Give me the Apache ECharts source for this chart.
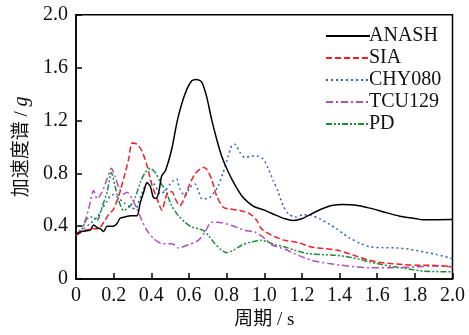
<!DOCTYPE html>
<html><head><meta charset="utf-8">
<script src="https://cdn.jsdelivr.net/npm/echarts@6/dist/echarts.min.js"></script>
<style>html,body{margin:0;padding:0;background:#fff}#c{width:469px;height:335px}</style>
</head><body><div id="c"></div>
<script>
const seriesNames = ['ANASH', 'SIA', 'CHY080', 'TCU129', 'PD'];
const xTicks = ['0', '0.2', '0.4', '0.6', '0.8', '1.0', '1.2', '1.4', '1.6', '1.8', '2.0'];
const yTicks = ['0', '0.4', '0.8', '1.2', '1.6', '2.0'];

const anashT = [0,0.03,0.075,0.094,0.112,0.13,0.147,0.165,0.2,0.218,0.234,0.26,0.29,0.324,0.34,0.36,0.377,0.395,0.41,0.425,0.44,0.455,0.475,0.508,0.54,0.579,0.615,0.641,0.668,0.694,0.72,0.747,0.774,0.809,0.845,0.88,0.915,0.95,1.004,1.057,1.11,1.153,1.199,1.252,1.305,1.358,1.418,1.48,1.56,1.63,1.72,1.81,1.84,2.0];
const anashV = [0.34,0.36,0.37,0.41,0.39,0.38,0.36,0.40,0.40,0.42,0.46,0.47,0.48,0.48,0.57,0.66,0.73,0.70,0.62,0.61,0.66,0.78,0.82,0.98,1.21,1.40,1.50,1.51,1.49,1.38,1.21,1.06,0.93,0.81,0.71,0.63,0.58,0.545,0.52,0.486,0.456,0.444,0.456,0.494,0.53,0.556,0.564,0.56,0.537,0.51,0.476,0.456,0.449,0.451];

const siaT = [0,0.05,0.085,0.12,0.147,0.174,0.2,0.227,0.253,0.28,0.298,0.324,0.35,0.377,0.404,0.43,0.457,0.475,0.492,0.51,0.526,0.552,0.57,0.597,0.632,0.676,0.694,0.72,0.747,0.782,0.818,0.871,0.924,0.96,0.986,1.04,1.11,1.18,1.25,1.32,1.39,1.455,1.526,1.597,1.668,1.74,1.81,1.88,2.0];
const siaV = [0.33,0.37,0.38,0.38,0.43,0.49,0.53,0.63,0.76,0.91,1.03,1.02,0.97,0.86,0.71,0.61,0.52,0.61,0.66,0.66,0.61,0.556,0.594,0.695,0.795,0.845,0.832,0.757,0.63,0.544,0.53,0.519,0.494,0.444,0.38,0.331,0.293,0.276,0.243,0.231,0.218,0.19,0.156,0.13,0.118,0.11,0.105,0.105,0.093];

const chyT = [0,0.04,0.076,0.112,0.138,0.165,0.182,0.2,0.227,0.262,0.29,0.315,0.342,0.368,0.395,0.421,0.448,0.475,0.5,0.517,0.535,0.552,0.579,0.606,0.632,0.65,0.668,0.694,0.72,0.756,0.782,0.809,0.827,0.845,0.871,0.898,0.933,0.96,0.995,1.02,1.048,1.075,1.1,1.128,1.163,1.207,1.25,1.296,1.34,1.385,1.42,1.455,1.51,1.56,1.63,1.70,1.77,1.845,1.916,2.0];
const chyV = [0.33,0.38,0.42,0.47,0.53,0.59,0.63,0.64,0.61,0.57,0.544,0.53,0.62,0.707,0.744,0.707,0.644,0.67,0.72,0.744,0.757,0.68,0.63,0.695,0.72,0.67,0.607,0.607,0.63,0.707,0.807,0.93,1.01,1.02,0.958,0.92,0.932,0.932,0.907,0.84,0.744,0.657,0.556,0.494,0.469,0.486,0.481,0.456,0.42,0.38,0.344,0.31,0.27,0.244,0.238,0.236,0.226,0.206,0.186,0.155];

const tcuT = [0,0.04,0.067,0.094,0.112,0.138,0.165,0.188,0.209,0.227,0.253,0.271,0.298,0.324,0.35,0.377,0.413,0.457,0.51,0.543,0.597,0.65,0.685,0.72,0.774,0.827,0.898,0.95,1.004,1.04,1.11,1.18,1.25,1.34,1.41,1.48,1.56,1.67,1.81,1.916,2.0];
const tcuV = [0.33,0.41,0.53,0.67,0.607,0.657,0.757,0.838,0.77,0.695,0.644,0.657,0.607,0.53,0.444,0.368,0.306,0.268,0.268,0.236,0.26,0.293,0.356,0.43,0.426,0.406,0.368,0.356,0.306,0.26,0.226,0.18,0.143,0.118,0.105,0.093,0.086,0.086,0.093,0.1,0.093];

const pdT = [0,0.032,0.058,0.085,0.112,0.138,0.165,0.188,0.209,0.227,0.253,0.29,0.315,0.342,0.368,0.395,0.421,0.448,0.475,0.508,0.543,0.579,0.615,0.65,0.676,0.703,0.738,0.774,0.8,0.836,0.88,0.933,0.986,1.057,1.11,1.163,1.234,1.305,1.376,1.447,1.526,1.597,1.686,1.774,1.845,2.0];
const pdV = [0.33,0.38,0.456,0.47,0.444,0.544,0.657,0.807,0.695,0.594,0.519,0.556,0.62,0.732,0.807,0.838,0.807,0.732,0.67,0.556,0.481,0.43,0.394,0.38,0.368,0.331,0.268,0.218,0.2,0.218,0.256,0.281,0.293,0.26,0.243,0.218,0.193,0.186,0.18,0.168,0.143,0.118,0.093,0.075,0.06,0.055];

const seriesT = [anashT, siaT, chyT, tcuT, pdT];
const seriesV = [anashV, siaV, chyV, tcuV, pdV];
const colors = ['#000000', '#f01e23', '#2a62c4', '#b04fbd', '#1f8a3b'];
const dashes = ['solid', [6, 3], [2, 3], [7, 3, 2, 3], [6, 2, 2, 2, 2, 2]];

const FONT = '"Liberation Serif", "Times New Roman", "Noto Sans CJK SC", serif';
const chart = echarts.init(document.getElementById('c'), null, {renderer: 'canvas'});

const series = seriesNames.map((n, i) => ({
  name: n, type: 'line', smooth: 0.25, showSymbol: false, symbol: 'none',
  data: seriesT[i].map((t, k) => [t, seriesV[i][k]]),
  lineStyle: {color: colors[i], width: 1.5, type: dashes[i]},
  itemStyle: {color: colors[i]},
  z: 10 - i
}));

chart.setOption({
  animation: false,
  backgroundColor: '#fff',
  grid: {left: 76, right: 16.5, top: 14.7, bottom: 54.3, show: true, borderColor: '#000', borderWidth: 1.5, backgroundColor: 'transparent'},
  legend: {
    orient: 'vertical', left: 320, top: 21, itemWidth: 44, itemHeight: 14, itemGap: 2,
    data: seriesNames,
    itemStyle: {opacity: 0, borderWidth: 0},
    textStyle: {fontFamily: FONT, fontSize: 20, color: '#111', lineHeight: 20, padding: [0, 0, 0, -6]}
  },
  xAxis: {
    type: 'value', min: 0, max: 2, interval: 0.2,
    axisLine: {show: true, lineStyle: {color: '#000', width: 1.5}},
    axisTick: {show: true, inside: true, length: 6, lineStyle: {color: '#000', width: 1.5}},
    splitLine: {show: false},
    axisLabel: {margin: 7, fontFamily: FONT, fontSize: 20, color: '#111', formatter: (v) => xTicks[Math.round(v / 0.2)]},
    name: '周期 / s', nameLocation: 'middle', nameGap: 30,
    nameTextStyle: {fontFamily: FONT, fontSize: 19, color: '#111'}
  },
  yAxis: {
    type: 'value', min: 0, max: 2, interval: 0.4,
    axisLine: {show: true, lineStyle: {color: '#000', width: 1.5}},
    axisTick: {show: true, inside: true, length: 6, lineStyle: {color: '#000', width: 1.5}},
    splitLine: {show: false},
    axisLabel: {margin: 8, fontFamily: FONT, fontSize: 20, color: '#111', formatter: (v) => yTicks[Math.round(v / 0.4)]},
    name: '{a|加速度谱 / }{g|g}', nameLocation: 'middle', nameGap: 40, nameRotate: 90,
    nameTextStyle: {
      rich: {
        a: {fontFamily: FONT, fontSize: 19, color: '#111'},
        g: {fontFamily: FONT, fontSize: 20, fontStyle: 'italic', color: '#111'}
      }
    }
  },
  series: series
});
</script></body></html>
